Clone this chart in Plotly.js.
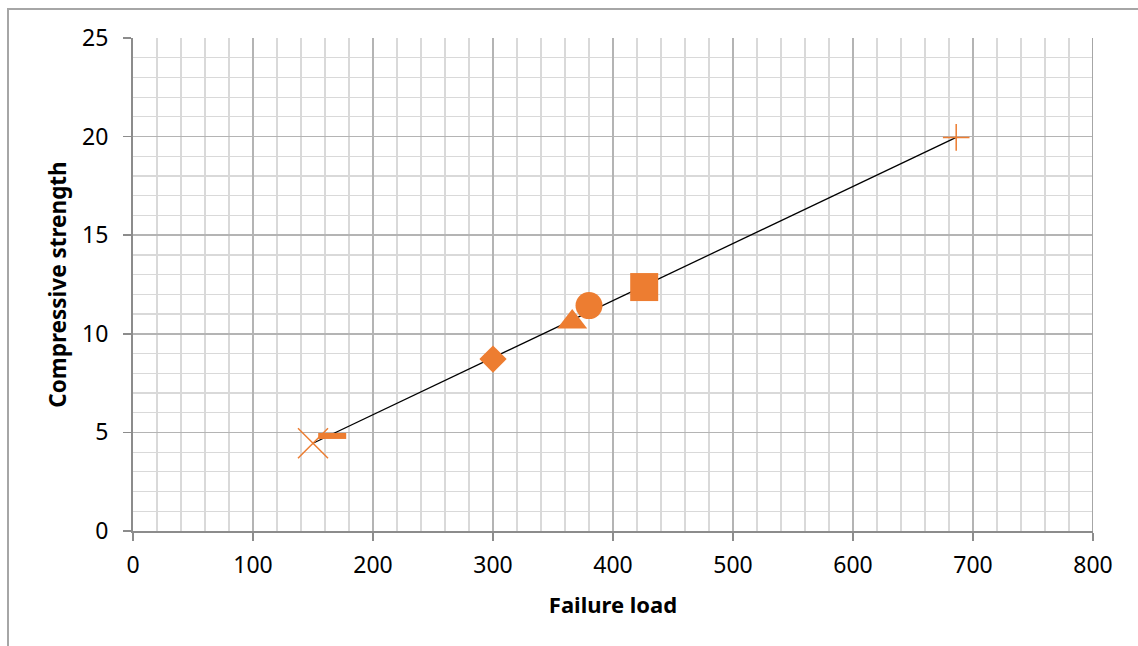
<!DOCTYPE html>
<html>
<head>
<meta charset="utf-8">
<script src="https://cdn.plot.ly/plotly-3.0.1.min.js"></script>
<style>
html,body{margin:0;padding:0;background:#fff;overflow:hidden;}
#frame{position:absolute;left:7px;top:8px;width:1200px;height:700px;border-left:2px solid #a6a6a6;border-top:2px solid #a6a6a6;pointer-events:none;z-index:5;}
#chart{position:absolute;left:0;top:0;width:1138px;height:646px;}
</style>
</head>
<body>
<div id="chart"></div>
<div id="frame"></div>
<script>
// Data
const seriesNames = ["Sample X", "Sample dash", "Sample diamond", "Sample triangle", "Sample circle", "Sample square", "Sample plus"];
const failureLoad = [150, 166, 300, 366, 380, 426, 686];
const compStrength = [4.45, 4.82, 8.72, 10.6, 11.43, 12.37, 19.96];
const markerSymbols = ["x-thin-open", "line-ew-open", "diamond", "triangle-up", "circle", "square", "cross-thin-open"];
const markerSizes = [30, 20, 21, 26, 27, 28, 19];
const markerLineWidths = [1.5, 6, 0, 0, 0, 0, 1.5];
const fitX = [150, 686];
const fitY = [4.45, 19.96];
const xTicks = [0, 100, 200, 300, 400, 500, 600, 700, 800];
const yTicks = [0, 5, 10, 15, 20, 25];

const orange = "#ED7D31";
const traces = [{
  x: fitX, y: fitY, type: "scatter", mode: "lines",
  line: {color: "#000000", width: 1.3}, hoverinfo: "skip", showlegend: false
}];
for (let i = 0; i < failureLoad.length; i++) {
  traces.push({
    x: [failureLoad[i]], y: [compStrength[i]], type: "scatter", mode: "markers",
    name: seriesNames[i], showlegend: false,
    marker: {symbol: markerSymbols[i], size: markerSizes[i], color: orange,
             line: {color: orange, width: markerLineWidths[i]}}
  });
}

const fontFam = "'Noto Sans', 'DejaVu Sans', sans-serif";
const layout = {
  width: 1138, height: 646,
  margin: {l: 133, r: 45, t: 38, b: 115},
  paper_bgcolor: "#ffffff", plot_bgcolor: "#ffffff",
  showlegend: false,
  font: {family: fontFam, color: "#000000", size: 23},
  xaxis: {
    range: [0, 800], tickvals: xTicks, ticktext: xTicks.map(String),
    showgrid: true, gridcolor: "#b4b4b4", gridwidth: 1.5,
    minor: {dtick: 20, showgrid: true, gridcolor: "#d9d9d9", gridwidth: 1.2},
    showline: true, linecolor: "#8c8c8c", linewidth: 2,
    ticks: "outside", ticklen: 8, tickcolor: "#8c8c8c", tickwidth: 1.5,
    ticklabelstandoff: 4,
    zeroline: false, fixedrange: true,
    tickfont: {family: fontFam, size: 23, color: "#000000"},
    title: {text: "<b>Failure load</b>", font: {family: fontFam, size: 22, color: "#000000"}, standoff: 19}
  },
  yaxis: {
    range: [0, 25], tickvals: yTicks, ticktext: yTicks.map(String),
    showgrid: true, gridcolor: "#b4b4b4", gridwidth: 1.5,
    minor: {dtick: 1, showgrid: true, gridcolor: "#d9d9d9", gridwidth: 1.2},
    showline: true, linecolor: "#8c8c8c", linewidth: 2,
    ticks: "outside", ticklen: 8, tickcolor: "#8c8c8c", tickwidth: 1.5,
    ticklabelstandoff: 10,
    zeroline: false, fixedrange: true,
    tickfont: {family: fontFam, size: 23, color: "#000000"},
    title: {text: "<b>Compressive strength</b>", font: {family: fontFam, size: 22.5, color: "#000000"}, standoff: 9}
  },
  shapes: [
    {type: "line", xref: "x", yref: "paper", x0: 800, x1: 800, y0: 0, y1: 1, line: {color: "#a6a6a6", width: 2}}
  ]
};
Plotly.newPlot("chart", traces, layout, {displayModeBar: false, staticPlot: true});
</script>
</body>
</html>
